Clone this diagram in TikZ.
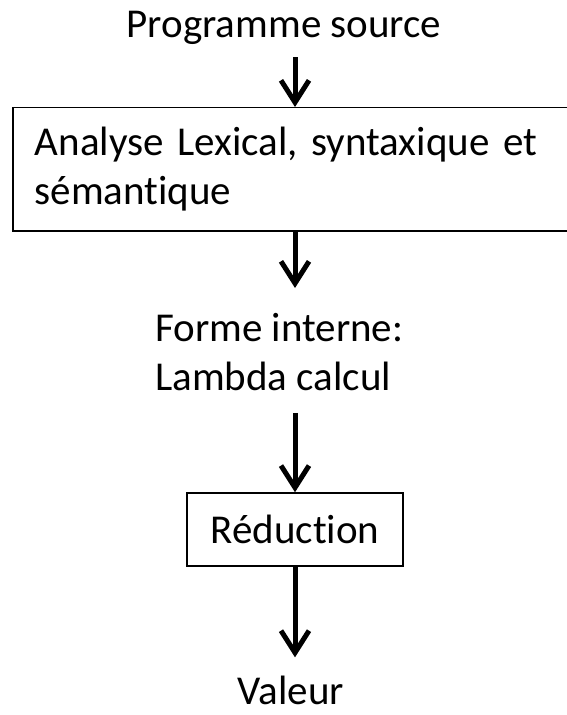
\documentclass[tikz,border=0pt]{standalone}
\usepackage{fontspec}
\setmainfont{Carlito}[Ligatures=NoCommon]
\usetikzlibrary{arrows.meta,positioning}

\begin{document}
\begin{tikzpicture}[x=1bp, y=-1bp, >={Straight Barb[length=22bp,width=28bp]},
  txt/.style={font=\fontsize{41bp}{49bp}\selectfont, inner sep=0pt},
  box/.style={txt, draw, line width=1.5bp},
  flow/.style={->, line width=5bp}]
  \useasboundingbox (0,0) rectangle (567,715);
  \clip (0,0) rectangle (567,715);
  \node[txt, anchor=base](src) at (284,38) {Programme source};
  \node[box, anchor=north west, minimum height=123bp, text width=560bp, align=left, inner xsep=22bp](ana) at (12,107) {Analyse Lexical, syntaxique et\\ sémantique};
  \node[txt, anchor=north west, align=left](form) at (155,313) {Forme interne:\\ Lambda calcul};
  \node[box, minimum width=216bp, minimum height=73bp](red) at (295,529.5) {Réduction};
  \node[txt, anchor=base](val) at (291,704) {Valeur};
  \draw[flow, shorten <=12bp](src.south -| red) -- (ana.north -| red);
  \draw[flow, shorten >=25bp](ana.south -| red) -- (form.north -| red);
  \draw[flow, shorten <=22bp](form.south -| red) -- (red.north);
  \draw[flow, shorten >=18bp](red.south) -- (val.north -| red);
\end{tikzpicture}
\end{document}
